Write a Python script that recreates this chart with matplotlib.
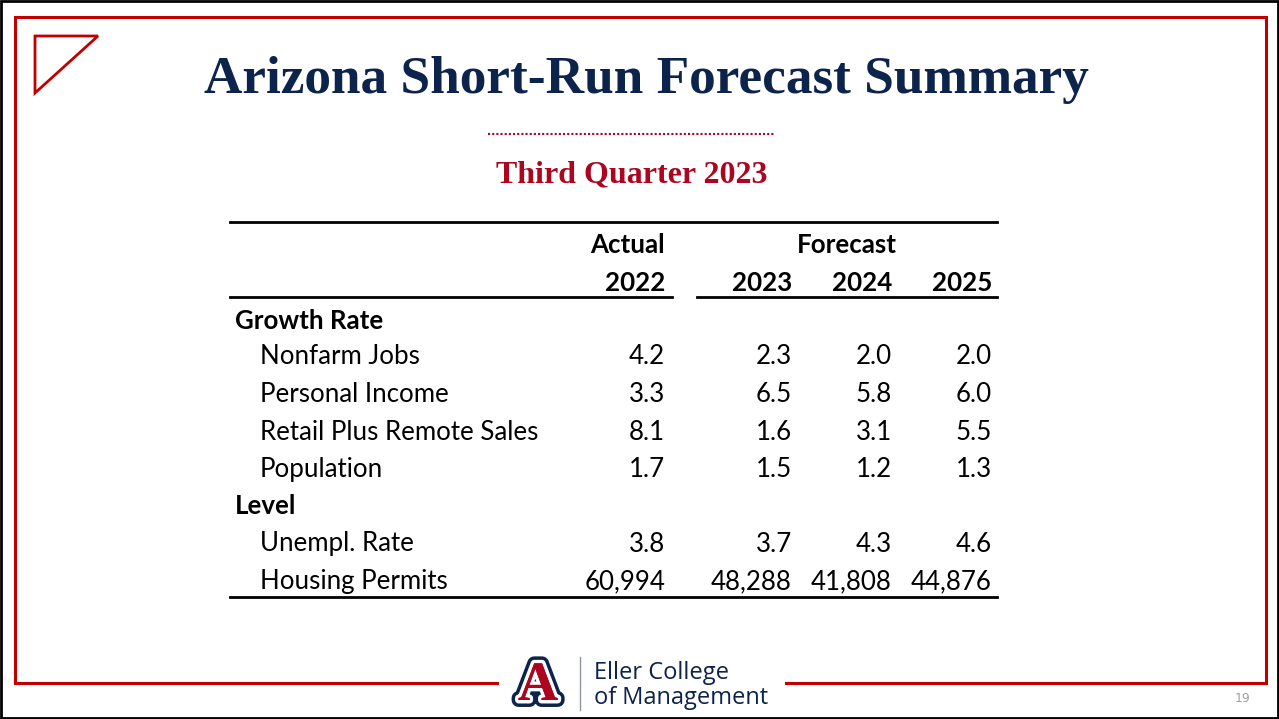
import matplotlib.pyplot as plt
import matplotlib.patheffects as pe
from matplotlib.patches import Rectangle, Polygon

# Table contents
years = ["2022", "2023", "2024", "2025"]
growth_labels = ["Nonfarm Jobs", "Personal Income", "Retail Plus Remote Sales", "Population"]
growth_2022 = [4.2, 3.3, 8.1, 1.7]
growth_2023 = [2.3, 6.5, 1.6, 1.5]
growth_2024 = [2.0, 5.8, 3.1, 1.2]
growth_2025 = [2.0, 6.0, 5.5, 1.3]
level_labels = ["Unempl. Rate", "Housing Permits"]
level_2022 = [3.8, 60994]
level_2023 = [3.7, 48288]
level_2024 = [4.3, 41808]
level_2025 = [4.6, 44876]

NAVY = "#0c234b"
RED = "#ab0520"
FRAME_RED = "#c00000"

fig = plt.figure(figsize=(12.79, 7.19), dpi=100)
ax = fig.add_axes([0, 0, 1, 1])
ax.set_xlim(0, 1279)
ax.set_ylim(719, 0)
ax.axis("off")

# slide borders
ax.add_patch(Rectangle((1, 1), 1277, 717, fill=False, ec="black", lw=2))
ax.plot([15, 15, 1266, 1266, 786], [683, 17, 17, 683, 683], color=FRAME_RED, lw=2.2, solid_joinstyle="miter")
ax.plot([15, 497], [683, 683], color=FRAME_RED, lw=2.2)
ax.add_patch(Polygon([(35, 36), (98, 36), (35, 93)], closed=True, fill=False, ec=FRAME_RED, lw=2))

# titles
ax.text(646, 80, "Arizona Short-Run Forecast Summary", ha="center", va="center",
        fontsize=38.3, fontweight="bold", family="Liberation Serif", color=NAVY)
ax.plot([488, 775], [134, 134], color=RED, lw=1.5, ls=(0, (1, 1)))
ax.text(632, 175, "Third Quarter 2023", ha="center", va="center",
        fontsize=23, fontweight="bold", family="Liberation Serif", color=RED)

# table
font = "Lato"
fs = 18.6
col_x = [665, 792, 892, 992]
ax.plot([230, 997], [222, 222], color="black", lw=2)
ax.plot([230, 672], [297, 297], color="black", lw=2)
ax.plot([697, 997], [297, 297], color="black", lw=2)
ax.plot([230, 997], [597, 597], color="black", lw=2)

ax.text(col_x[0], 245, "Actual", ha="right", va="center", fontsize=fs, fontweight="bold", family=font)
ax.text(847, 245, "Forecast", ha="center", va="center", fontsize=fs, fontweight="bold", family=font)
for x, yr in zip(col_x, years):
    ax.text(x, 283, yr, ha="right", va="center", fontsize=fs, fontweight="bold", family=font)


def draw_section(title, y_title, labels, cols, y0, step=37.5):
    ax.text(235, y_title, title, ha="left", va="center", fontsize=fs, fontweight="bold", family=font)
    for i, lab in enumerate(labels):
        y = y0 + i * step
        ax.text(260, y, lab, ha="left", va="center", fontsize=fs, family=font)
        for x, col in zip(col_x, cols):
            v = col[i]
            s = f"{v:,.0f}" if v > 1000 else f"{v:.1f}"
            ax.text(x, y, s, ha="right", va="center", fontsize=fs, family=font)


draw_section("Growth Rate", 321, growth_labels,
             [growth_2022, growth_2023, growth_2024, growth_2025], 357)
draw_section("Level", 506, level_labels,
             [level_2022, level_2023, level_2024, level_2025], 544)

# footer logo
ax.text(538, 686, "A", ha="center", va="center", fontsize=40, fontweight="bold",
        family="Liberation Serif", color=RED,
        path_effects=[pe.withStroke(linewidth=10, foreground=NAVY),
                      pe.withStroke(linewidth=5, foreground="white"), pe.Normal()])
ax.plot([580, 580], [657, 710], color="#8a96a8", lw=1)
ax.text(594, 673, "Eller College", ha="left", va="center", fontsize=17, family="Open Sans", color=NAVY)
ax.text(594, 698, "of Management", ha="left", va="center", fontsize=17, family="Open Sans", color=NAVY)
ax.text(1243, 698, "19", ha="center", va="center", fontsize=9, color="#a0a0a0")

fig.savefig("out.png", dpi=100)
